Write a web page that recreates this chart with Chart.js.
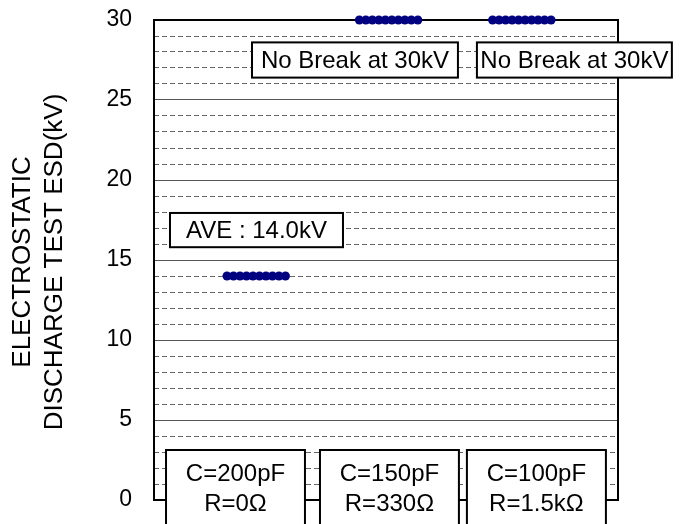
<!DOCTYPE html>
<html><head><meta charset="utf-8">
<script src="https://cdn.jsdelivr.net/npm/chart.js@4"></script>
<style>html,body{margin:0;padding:0;background:#fff;}#wrap{width:692px;height:524px;}</style>
</head><body><div id="wrap"><canvas id="c" width="692" height="524"></canvas></div>
<script>
// ---- data ----
const categories = [["C=200pF", "R=0\u03A9"], ["C=150pF", "R=330\u03A9"], ["C=100pF", "R=1.5k\u03A9"]];
const seriesC200 = [14, 14, 14, 14, 14, 14, 14, 14, 14, 14];
const seriesC150 = [30, 30, 30, 30, 30, 30, 30, 30, 30, 30];
const seriesC100 = [30, 30, 30, 30, 30, 30, 30, 30, 30, 30];
const yTickLabels = [0, 5, 10, 15, 20, 25, 30];
const annotationTexts = ["AVE : 14.0kV", "No Break at 30kV", "No Break at 30kV"];
const yTitleLines = ["ELECTROSTATIC", "DISCHARGE TEST ESD(kV)"];

// ---- layout (sample slots on x, kV on y) ----
const groupStart = [11.23, 31.6, 52.1];
const annotationBoxes = [
  {x0: 2.46, x1: 29.08, y0: 17.94, y1: 15.8},
  {x0: 15.08, x1: 46.77, y0: 28.6, y1: 26.4},
  {x0: 49.69, x1: 79.69, y0: 28.6, y1: 26.4}
];
const categoryBoxes = [
  {x0: 1.85, x1: 23.23}, {x0: 25.54, x1: 46.92}, {x0: 48.15, x1: 69.54}
];
const FONT = '"Liberation Sans", Arial, sans-serif';

const seriesList = [seriesC200, seriesC150, seriesC100];
const points = [];
seriesList.forEach((s, g) => s.forEach((v, i) => points.push({x: groupStart[g] + i, y: v})));

const decor = {
  id: 'decor',
  beforeDatasetsDraw(chart) {
    const {ctx, chartArea: a} = chart;
    ctx.save();
    ctx.strokeStyle = '#000';
    ctx.lineWidth = 2;
    ctx.strokeRect(a.left, a.top, a.right - a.left, a.bottom - a.top);
    ctx.restore();
  },
  afterDraw(chart) {
    const {ctx, chartArea: a} = chart;
    const xs = chart.scales.x, ys = chart.scales.y;
    ctx.save();
    ctx.lineWidth = 2;
    ctx.strokeStyle = '#000';
    ctx.fillStyle = '#000';
    ctx.textAlign = 'center';
    ctx.textBaseline = 'middle';
    ctx.font = '24px ' + FONT;
    annotationBoxes.forEach((b, i) => {
      const l = xs.getPixelForValue(b.x0), r = xs.getPixelForValue(b.x1);
      const t = ys.getPixelForValue(b.y0), bt = ys.getPixelForValue(b.y1);
      ctx.fillStyle = '#fff';
      ctx.fillRect(l, t, r - l, bt - t);
      ctx.strokeRect(l, t, r - l, bt - t);
      ctx.fillStyle = '#000';
      ctx.fillText(annotationTexts[i], (l + r) / 2, (t + bt) / 2 + 1);
    });
    categoryBoxes.forEach((b, i) => {
      const l = xs.getPixelForValue(b.x0), r = xs.getPixelForValue(b.x1);
      const t = ys.getPixelForValue(3.125);
      ctx.fillStyle = '#fff';
      ctx.fillRect(l, t, r - l, 100);
      ctx.strokeRect(l, t, r - l, 100);
      ctx.fillStyle = '#000';
      ctx.fillText(categories[i][0], (l + r) / 2, t + 24);
      ctx.fillText(categories[i][1], (l + r) / 2, t + 54);
    });
    // y title
    ctx.font = '26px ' + FONT;
    const cy = (a.top + a.bottom) / 2 + 2;
    [23, 55].forEach((x, i) => {
      ctx.save();
      ctx.translate(x, cy);
      ctx.rotate(-Math.PI / 2);
      ctx.fillText(yTitleLines[i], 0, 0);
      ctx.restore();
    });
    ctx.restore();
  }
};

new Chart(document.getElementById('c'), {
  type: 'scatter',
  data: {
    datasets: [{
      data: points,
      showLine: false,
      pointRadius: 4.5,
      pointHoverRadius: 4.5,
      pointBorderWidth: 0,
      pointBackgroundColor: '#000080',
      clip: false
    }]
  },
  options: {
    responsive: false,
    animation: false,
    events: [],
    layout: {padding: {left: 0, top: 20, right: 74, bottom: 24}},
    plugins: {legend: {display: false}, tooltip: {enabled: false}},
    scales: {
      x: {type: 'linear', min: 0, max: 71.4, display: false},
      y: {
        min: 0, max: 30,
        afterFit(s) { s.width = 154; s.paddingTop = 0; s.paddingBottom = 0; },
        ticks: {
          stepSize: 1,
          autoSkip: false,
          padding: 22,
          color: '#000',
          font: {family: FONT, size: 23},
          callback: v => yTickLabels.includes(v) ? String(v) : ''
        },
        grid: {
          drawTicks: false,
          color: c => (c.tick && c.tick.value % 5 !== 0) ? '#666' : '#555',
          lineWidth: 1
        },
        border: {
          display: false,
          dash: c => (c.tick && c.tick.value % 5 !== 0) ? [5, 3] : []
        }
      }
    }
  },
  plugins: [decor]
});
</script></body></html>
